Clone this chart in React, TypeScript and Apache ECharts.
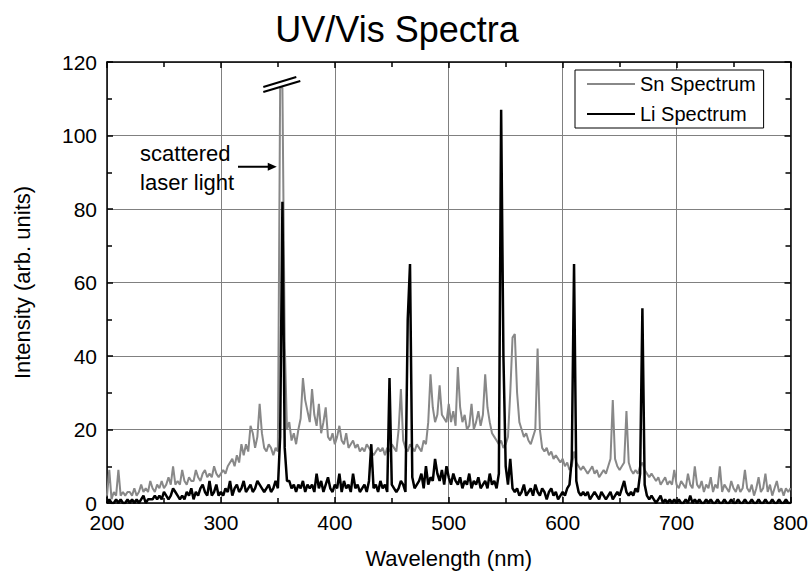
import React, { useEffect, useRef } from "react";
import * as echarts from "echarts";

const FONT = "'Liberation Sans', Arial, Helvetica, sans-serif";

// wavelength grid (nm): first value and spacing of the recorded points
const wavelengthStart = 200;
const wavelengthStep = 2;

const xTicks = { min: 200, max: 800, interval: 100 };
const yTicks = { min: 0, max: 120, interval: 20 };

// Sn spectrum intensities, 200 nm .. 800 nm, every 2 nm
const snSpectrum = [
  2, 9, 1, 3, 2, 9, 2, 3, 2, 3,
  3, 2, 4, 2, 3, 5, 3, 4, 3, 6,
  4, 3, 5, 4, 6, 4, 5, 7, 5, 10,
  5, 6, 5, 9, 6, 5, 7, 6, 6, 9,
  7, 6, 8, 9, 7, 8, 7, 10, 8, 7,
  8, 9, 8, 10, 11, 12, 10, 13, 11, 16,
  13, 16, 14, 21, 19, 15, 18, 27, 19, 15,
  14, 16, 15, 13, 15, 14, 113, 113, 44, 20,
  22, 17, 19, 16, 20, 23, 34, 28, 25, 22,
  31, 24, 21, 27, 19, 22, 26, 18, 17, 19,
  16, 18, 21, 17, 16, 19, 15, 16, 17, 15,
  16, 14, 15, 14, 16, 15, 14, 13, 14, 15,
  14, 15, 13, 15, 14, 16, 15, 14, 20, 31,
  17, 15, 14, 16, 15, 14, 16, 15, 14, 17,
  16, 22, 35, 26, 22, 24, 32, 24, 23, 22,
  27, 22, 25, 21, 37, 26, 22, 24, 20, 21,
  27, 20, 22, 25, 21, 24, 35, 26, 22, 19,
  18, 17, 16, 17, 15, 16, 18, 30, 45, 46,
  30, 22, 20, 18, 19, 17, 16, 18, 20, 42,
  20, 15, 14, 15, 13, 14, 12, 13, 12, 11,
  12, 10, 11, 9, 10, 14, 11, 10, 9, 10,
  9, 8, 9, 10, 8, 9, 7, 8, 9, 8,
  10, 12, 28, 12, 10, 9, 10, 11, 25, 11,
  9, 8, 9, 8, 10, 11, 9, 8, 7, 8,
  7, 6, 7, 5, 6, 7, 5, 6, 5, 9,
  5, 4, 6, 5, 4, 8, 5, 4, 10, 5,
  4, 6, 3, 5, 4, 7, 3, 5, 4, 10,
  3, 5, 4, 3, 6, 4, 3, 5, 3, 4,
  9, 4, 3, 5, 2, 4, 7, 3, 4, 8,
  3, 5, 2, 4, 6, 3, 4, 2, 4, 3,
  4,
];

// Li spectrum intensities, 200 nm .. 800 nm, every 2 nm
const liSpectrum = [
  0, 1, 0, 0, 1, 0, 1, 0, 0, 1,
  0, 1, 0, 1, 0, 1, 2, 0, 1, 1,
  1, 2, 1, 2, 1, 3, 2, 1, 2, 4,
  3, 2, 1, 2, 1, 3, 2, 4, 1, 3,
  2, 4, 5, 3, 2, 6, 2, 3, 5, 2,
  3, 2, 4, 3, 6, 2, 4, 5, 3, 4,
  6, 3, 4, 5, 3, 4, 6, 5, 4, 3,
  4, 5, 3, 4, 6, 4, 18, 82, 15, 6,
  6, 4, 5, 3, 5, 4, 6, 3, 5, 4,
  5, 3, 8, 4, 6, 3, 5, 7, 4, 3,
  5, 4, 8, 3, 6, 4, 5, 3, 8, 4,
  5, 3, 4, 5, 3, 6, 16, 4, 5, 3,
  6, 4, 5, 3, 34, 5, 4, 3, 4, 6,
  5, 3, 50, 65, 7, 4, 5, 6, 8, 4,
  10, 5, 7, 6, 12, 8, 6, 9, 5, 10,
  7, 5, 8, 6, 5, 7, 4, 6, 5, 8,
  4, 6, 5, 7, 4, 5, 6, 4, 8, 5,
  6, 4, 8, 107, 40, 10, 5, 12, 4, 3,
  4, 2, 3, 5, 2, 3, 4, 2, 5, 3,
  2, 4, 3, 1, 3, 4, 2, 3, 1, 2,
  3, 2, 4, 5, 12, 65, 6, 3, 2, 3,
  2, 3, 1, 2, 3, 2, 1, 3, 2, 1,
  2, 3, 1, 2, 3, 2, 4, 6, 3, 2,
  3, 2, 4, 3, 8, 53, 5, 2, 1, 2,
  1, 0, 1, 2, 0, 1, 0, 1, 0, 1,
  0, 1, 0, 0, 1, 0, 2, 0, 1, 0,
  1, 0, 0, 1, 0, 1, 0, 0, 1, 0,
  0, 1, 0, 0, 1, 0, 0, 1, 0, 0,
  1, 0, 0, 1, 0, 0, 1, 0, 0, 1,
  0, 0, 1, 0, 0, 1, 0, 0, 1, 0,
  0,
];

const toPairs = (values: number[]) =>
  values.map((v, i) => [wavelengthStart + i * wavelengthStep, v]);

const LINE_ICON = "path://M0,0H48V2H0Z";

export default function App() {
  const ref = useRef<HTMLDivElement>(null);

  useEffect(() => {
    if (!ref.current) return;
    const chart = echarts.init(ref.current, undefined, { renderer: "svg" });

    const axisLine = { show: true, onZero: false, lineStyle: { color: "#000", width: 1.5 } };
    const axisTick = { show: true, inside: true, length: 6, lineStyle: { color: "#000", width: 1.5 } };
    const minorTick = { show: true, splitNumber: 2, length: 5, lineStyle: { color: "#000", width: 1.5 } };
    const labelStyle = { color: "#000", fontFamily: FONT, fontSize: 21 };
    const nameStyle = { color: "#000", fontFamily: FONT, fontSize: 22 };
    const splitLine = { show: true, lineStyle: { color: "#808080", width: 1 } };

    chart.setOption({
      animation: false,
      backgroundColor: "#fff",
      title: {
        text: "UV/Vis Spectra",
        left: 392,
        top: 6,
        textAlign: "center",
        textStyle: { fontFamily: FONT, fontSize: 36, fontWeight: "normal", color: "#000" },
      },
      grid: { left: 107, right: 19, top: 62, bottom: 70 },
      legend: {
        left: 575,
        top: 70,
        orient: "vertical",
        itemWidth: 48,
        itemHeight: 20,
        itemGap: 10,
        padding: [4, 8, 4, 12],
        borderColor: "#000",
        borderWidth: 1,
        borderRadius: 0,
        backgroundColor: "#fff",
        textStyle: { fontFamily: FONT, fontSize: 20, color: "#000" },
        data: [
          { name: "Sn Spectrum", icon: LINE_ICON },
          { name: "Li Spectrum", icon: LINE_ICON },
        ],
      },
      xAxis: [
        {
          type: "value",
          position: "bottom",
          ...xTicks,
          name: "Wavelength (nm)",
          nameLocation: "middle",
          nameGap: 44,
          nameTextStyle: { ...nameStyle },
          axisLine,
          axisTick,
          minorTick,
          axisLabel: { ...labelStyle, margin: 9 },
          splitLine,
        },
        {
          type: "value",
          position: "top",
          ...xTicks,
          axisLine,
          axisTick,
          minorTick,
          axisLabel: { show: false },
          splitLine: { show: false },
        },
      ],
      yAxis: [
        {
          type: "value",
          position: "left",
          ...yTicks,
          name: "Intensity (arb. units)",
          nameLocation: "middle",
          nameGap: 74,
          nameTextStyle: { ...nameStyle },
          axisLine,
          axisTick,
          minorTick,
          axisLabel: { ...labelStyle, margin: 10 },
          splitLine,
        },
        {
          type: "value",
          position: "right",
          ...yTicks,
          axisLine,
          axisTick,
          minorTick,
          axisLabel: { show: false },
          splitLine: { show: false },
        },
      ],
      series: [
        {
          name: "Sn Spectrum",
          type: "line",
          xAxisIndex: 0,
          yAxisIndex: 0,
          data: toPairs(snSpectrum),
          showSymbol: false,
          symbol: "none",
          lineStyle: { color: "#888888", width: 2 },
          itemStyle: { color: "#888888" },
          z: 3,
        },
        {
          name: "Li Spectrum",
          type: "line",
          xAxisIndex: 0,
          yAxisIndex: 0,
          data: toPairs(liSpectrum),
          showSymbol: false,
          symbol: "none",
          lineStyle: { color: "#000000", width: 2.5 },
          itemStyle: { color: "#000000" },
          z: 4,
        },
      ],
    });

    const px = (x: number, y: number) =>
      chart.convertToPixel({ xAxisIndex: 0, yAxisIndex: 0 }, [x, y]) as number[];

    const brk = px(353, 114);
    const arrowTip = px(349, 91.5);
    const arrowStart = px(315, 91.5);
    const textPos = px(229, 99);

    chart.setOption({
      graphic: [
        {
          type: "line",
          shape: { x1: brk[0] - 18, y1: brk[1] + 3, x2: brk[0] + 15, y2: brk[1] - 7 },
          style: { stroke: "#000", lineWidth: 2 },
          z: 100,
        },
        {
          type: "line",
          shape: { x1: brk[0] - 18, y1: brk[1] + 8, x2: brk[0] + 19, y2: brk[1] - 3 },
          style: { stroke: "#000", lineWidth: 2 },
          z: 100,
        },
        {
          type: "line",
          shape: { x1: arrowStart[0], y1: arrowStart[1], x2: arrowTip[0] - 6, y2: arrowTip[1] },
          style: { stroke: "#000", lineWidth: 2 },
          z: 100,
        },
        {
          type: "polygon",
          shape: {
            points: [
              [arrowTip[0] - 9, arrowTip[1] - 4],
              [arrowTip[0], arrowTip[1]],
              [arrowTip[0] - 9, arrowTip[1] + 4],
            ],
          },
          style: { fill: "#000" },
          z: 100,
        },
        {
          type: "text",
          x: textPos[0],
          y: textPos[1],
          style: {
            text: "scattered\nlaser light",
            fontFamily: FONT,
            fontSize: 22,
            lineHeight: 29,
            fill: "#000",
          },
          z: 100,
        },
      ],
    });

    return () => chart.dispose();
  }, []);

  return (
    <div
      ref={ref}
      style={{ position: "fixed", left: 0, top: 0, width: 811, height: 574, background: "#fff" }}
    />
  );
}
